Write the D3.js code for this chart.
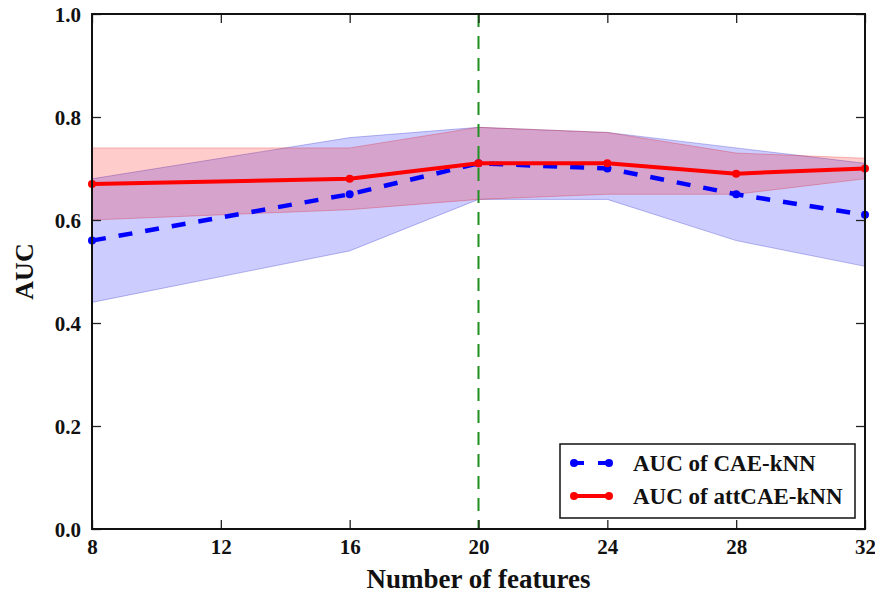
<!DOCTYPE html>
<html>
<head>
<meta charset="utf-8">
<script src="https://cdnjs.cloudflare.com/ajax/libs/d3/7.8.5/d3.min.js"></script>
<style>
  body { margin: 0; background: #fff; }
  svg text { font-family: "Liberation Serif", "Times New Roman", serif; font-weight: bold; }
</style>
</head>
<body>
<svg id="chart" width="875" height="596"></svg>
<script>
  var features = [8, 16, 20, 24, 28, 32];
  var caeMean = [0.56, 0.65, 0.71, 0.70, 0.65, 0.61];
  var caeLow = [0.44, 0.54, 0.64, 0.64, 0.56, 0.51];
  var caeHigh = [0.68, 0.76, 0.78, 0.77, 0.74, 0.71];
  var attMean = [0.67, 0.68, 0.71, 0.71, 0.69, 0.70];
  var attLow = [0.60, 0.62, 0.64, 0.65, 0.65, 0.68];
  var attHigh = [0.74, 0.74, 0.78, 0.77, 0.73, 0.72];
  var xTicks = [8, 12, 16, 20, 24, 28, 32];
  var yTicks = [0.0, 0.2, 0.4, 0.6, 0.8, 1.0];
  var selectedFeatures = 20;
  var legendLabels = ['AUC of CAE-kNN', 'AUC of attCAE-kNN'];

(function() {
  var svg = d3.select('#chart');
  var pLeft = 92, pRight = 865, pTop = 14, pBottom = 529;

  var x = d3.scaleLinear().domain([8, 32]).range([pLeft, pRight]);
  var y = d3.scaleLinear().domain([0, 1]).range([pBottom, pTop]);

  function band(low, high) {
    return d3.area()
      .x(function(d, i) { return x(features[i]); })
      .y0(function(d, i) { return y(low[i]); })
      .y1(function(d, i) { return y(high[i]); })(features);
  }
  function line(vals) {
    return d3.line()
      .x(function(d, i) { return x(features[i]); })
      .y(function(d, i) { return y(vals[i]); })(features);
  }

  // shaded ranges
  svg.append('path').attr('d', band(caeLow, caeHigh))
    .attr('fill', 'rgba(0,0,255,0.2)')
    .attr('stroke', 'rgba(0,0,180,0.25)').attr('stroke-width', 1);
  svg.append('path').attr('d', band(attLow, attHigh))
    .attr('fill', 'rgba(255,0,0,0.2)')
    .attr('stroke', 'rgba(220,0,0,0.25)').attr('stroke-width', 1);

  // vertical marker at selected number of features
  svg.append('line')
    .attr('x1', x(selectedFeatures)).attr('x2', x(selectedFeatures))
    .attr('y1', pTop).attr('y2', pBottom)
    .attr('stroke', '#1f8f1f').attr('stroke-width', 2)
    .attr('stroke-dasharray', '13,9');

  // mean lines
  svg.append('path').attr('d', line(caeMean))
    .attr('fill', 'none').attr('stroke', '#0000ff').attr('stroke-width', 4.5)
    .attr('stroke-dasharray', '14,13');
  svg.selectAll('.cae-dot').data(features).enter().append('circle')
    .attr('cx', function(d) { return x(d); })
    .attr('cy', function(d, i) { return y(caeMean[i]); })
    .attr('r', 4).attr('fill', '#0000ff');

  svg.append('path').attr('d', line(attMean))
    .attr('fill', 'none').attr('stroke', '#ff0000').attr('stroke-width', 4);
  svg.selectAll('.att-dot').data(features).enter().append('circle')
    .attr('cx', function(d) { return x(d); })
    .attr('cy', function(d, i) { return y(attMean[i]); })
    .attr('r', 4).attr('fill', '#ff0000');

  // axes, ticks pointing inwards on all four sides
  var fmt = d3.format('.1f');
  var gx = svg.append('g').attr('transform', 'translate(0,' + pBottom + ')')
    .call(d3.axisBottom(x).tickValues(xTicks).tickSize(-9).tickPadding(7));
  var gxTop = svg.append('g').attr('transform', 'translate(0,' + pTop + ')')
    .call(d3.axisTop(x).tickValues(xTicks).tickSize(-9).tickFormat(''));
  var gy = svg.append('g').attr('transform', 'translate(' + pLeft + ',0)')
    .call(d3.axisLeft(y).tickValues(yTicks).tickSize(-9).tickPadding(11).tickFormat(fmt));
  var gyRight = svg.append('g').attr('transform', 'translate(' + pRight + ',0)')
    .call(d3.axisRight(y).tickValues(yTicks).tickSize(-9).tickFormat(''));

  [gx, gxTop, gy, gyRight].forEach(function(g) {
    g.select('.domain').remove();
    g.selectAll('.tick line').attr('stroke', '#222').attr('stroke-width', 1.3);
    g.selectAll('.tick text').attr('fill', '#111').style('font-size', '21px');
  });
  gx.selectAll('.tick text').attr('dy', '0.85em');
  gy.selectAll('.tick text').attr('dy', '0.35em');

  svg.append('rect')
    .attr('x', pLeft).attr('y', pTop)
    .attr('width', pRight - pLeft).attr('height', pBottom - pTop)
    .attr('fill', 'none').attr('stroke', '#111').attr('stroke-width', 2);

  svg.append('text')
    .attr('x', (pLeft + pRight) / 2).attr('y', 588)
    .attr('text-anchor', 'middle').style('font-size', '27px').attr('fill', '#111')
    .text('Number of features');
  svg.append('text')
    .attr('transform', 'translate(33,' + ((pTop + pBottom) / 2) + ') rotate(-90)')
    .attr('text-anchor', 'middle').style('font-size', '26px').attr('fill', '#111')
    .text('AUC');

  // legend
  var lg = svg.append('g');
  lg.append('rect')
    .attr('x', 560).attr('y', 444).attr('width', 295).attr('height', 74)
    .attr('fill', '#fff').attr('stroke', '#111').attr('stroke-width', 1.5);
  var rows = [
    { label: legendLabels[0], color: '#0000ff', dash: '10,14' },
    { label: legendLabels[1], color: '#ff0000', dash: null }
  ];
  rows.forEach(function(r, i) {
    var cy = 463 + i * 33;
    var ln = lg.append('line')
      .attr('x1', 574).attr('x2', 609).attr('y1', cy).attr('y2', cy)
      .attr('stroke', r.color).attr('stroke-width', 4);
    if (r.dash) ln.attr('stroke-dasharray', r.dash);
    [574, 609].forEach(function(cx) {
      lg.append('circle').attr('cx', cx).attr('cy', cy).attr('r', 4).attr('fill', r.color);
    });
    lg.append('text')
      .attr('x', 633).attr('y', cy).attr('dy', '0.35em')
      .style('font-size', '23px').attr('fill', '#111')
      .text(r.label);
  });
})();
</script>
</body>
</html>
